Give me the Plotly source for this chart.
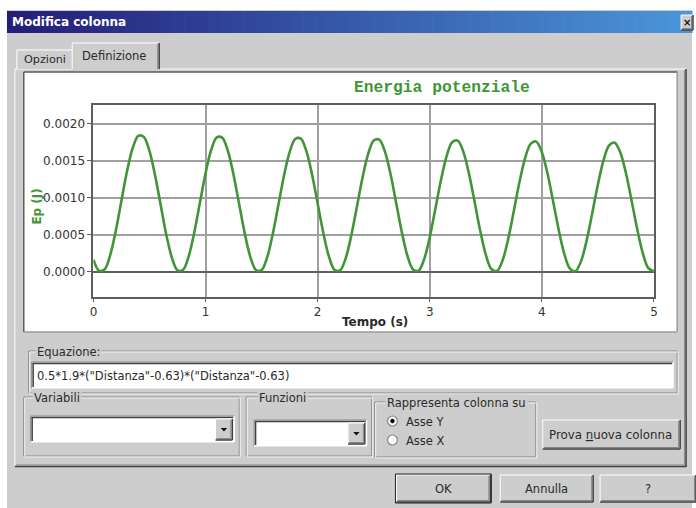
import plotly.graph_objects as go

W, H = 696, 508

# ---------------- data ----------------
time_s = [0.00, 0.05, 0.10, 0.15, 0.20, 0.25, 0.30, 0.35, 0.40, 0.45,
          0.50, 0.55, 0.60, 0.65, 0.70, 0.75, 0.80, 0.85, 0.90, 0.95,
          1.00, 1.05, 1.10, 1.15, 1.20, 1.25, 1.30, 1.35, 1.40, 1.45,
          1.50, 1.55, 1.60, 1.65, 1.70, 1.75, 1.80, 1.85, 1.90, 1.95,
          2.00, 2.05, 2.10, 2.15, 2.20, 2.25, 2.30, 2.35, 2.40, 2.45,
          2.50, 2.55, 2.60, 2.65, 2.70, 2.75, 2.80, 2.85, 2.90, 2.95,
          3.00, 3.05, 3.10, 3.15, 3.20, 3.25, 3.30, 3.35, 3.40, 3.45,
          3.50, 3.55, 3.60, 3.65, 3.70, 3.75, 3.80, 3.85, 3.90, 3.95,
          4.00, 4.05, 4.10, 4.15, 4.20, 4.25, 4.30, 4.35, 4.40, 4.45,
          4.50, 4.55, 4.60, 4.65, 4.70, 4.75, 4.80, 4.85, 4.90, 4.95,
          5.00]

ep_joule = [0.000165, 0.000015, 0.000033, 0.000228, 0.000559, 0.000963, 0.001359, 0.001670, 0.001833, 0.001819,
            0.001628, 0.001300, 0.000898, 0.000500, 0.000187, 0.000019, 0.000028, 0.000212, 0.000535, 0.000934,
            0.001329, 0.001643, 0.001813, 0.001807, 0.001626, 0.001306, 0.000910, 0.000515, 0.000198, 0.000023,
            0.000023, 0.000197, 0.000512, 0.000905, 0.001298, 0.001614, 0.001792, 0.001796, 0.001624, 0.001313,
            0.000922, 0.000528, 0.000209, 0.000027, 0.000018, 0.000183, 0.000489, 0.000876, 0.001267, 0.001586,
            0.001770, 0.001783, 0.001622, 0.001318, 0.000933, 0.000542, 0.000220, 0.000032, 0.000014, 0.000169,
            0.000467, 0.000848, 0.001238, 0.001558, 0.001748, 0.001770, 0.001618, 0.001324, 0.000944, 0.000555,
            0.000231, 0.000037, 0.000011, 0.000156, 0.000445, 0.000820, 0.001207, 0.001531, 0.001726, 0.001756,
            0.001614, 0.001329, 0.000956, 0.000568, 0.000243, 0.000043, 0.000008, 0.000144, 0.000424, 0.000793,
            0.001178, 0.001503, 0.001704, 0.001742, 0.001609, 0.001333, 0.000966, 0.000581, 0.000254, 0.000049,
            0.000005]

y_tick_vals = [0.0, 0.0005, 0.0010, 0.0015, 0.0020]
y_tick_text = ["0.0000", "0.0005", "0.0010", "0.0015", "0.0020"]
x_tick_vals = [0, 1, 2, 3, 4, 5]
x_tick_text = ["0", "1", "2", "3", "4", "5"]

window_title = "Modifica colonna"
tab_labels = ["Opzioni", "Definizione"]
chart_title = "Energia potenziale"
x_title = "Tempo (s)"
y_title = "Ep (J)"
equation_label = "Equazione:"
equation = '0.5*1.9*("Distanza"-0.63)*("Distanza"-0.63)'
group_labels = ["Variabili", "Funzioni", "Rappresenta colonna su"]
radio_labels = ["Asse Y", "Asse X"]
button_labels = ["OK", "Annulla", "?"]

# ---------------- styling ----------------
FACE = "#cdcdcd"
DARK = "#404040"
SHADOW = "#868686"
GREEN = "#419538"
TXT = "#2a2a2a"
UI_FONT = "DejaVu Sans"

shapes = []
annotations = []


def X(px):
    return px / W


def Y(py):
    return 1 - py / H


def rect(x0, y0, x1, y1, fill, line=None, lw=0):
    shapes.append(dict(type="rect", xref="paper", yref="paper",
                       x0=X(x0), x1=X(x1), y0=Y(y1), y1=Y(y0),
                       fillcolor=fill, layer="below",
                       line=dict(width=lw, color=line if line else fill)))


def seg(x0, y0, x1, y1, color, w=1):
    shapes.append(dict(type="line", xref="paper", yref="paper",
                       x0=X(x0), x1=X(x1), y0=Y(y0), y1=Y(y1), layer="below",
                       line=dict(width=w, color=color)))


def circle(cx, cy, r, fill, line, lw=1):
    shapes.append(dict(type="circle", xref="paper", yref="paper",
                       x0=X(cx - r), x1=X(cx + r), y0=Y(cy + r), y1=Y(cy - r),
                       fillcolor=fill, layer="below", line=dict(width=lw, color=line)))


def tri(cx, cy, s, color):
    path = "M {},{} L {},{} L {},{} Z".format(X(cx - s), Y(cy - s / 2), X(cx + s), Y(cy - s / 2), X(cx), Y(cy + s / 2 + 0.5))
    shapes.append(dict(type="path", xref="paper", yref="paper", path=path,
                       fillcolor=color, layer="below", line=dict(width=0, color=color)))


def text(px, py, s, size=12, color=TXT, anchor="left", family=UI_FONT, bg=None, angle=0):
    a = dict(xref="paper", yref="paper", x=X(px), y=Y(py), text=s, showarrow=False,
             xanchor=anchor, yanchor="middle", textangle=angle,
             font=dict(family=family, size=size, color=color))
    if bg:
        a["bgcolor"] = bg
    annotations.append(a)


def raised(x0, y0, x1, y1, default=False):
    rect(x0, y0, x1, y1, FACE)
    seg(x0, y0, x1, y0, "#ffffff")
    seg(x0, y0, x0, y1, "#ffffff")
    seg(x0, y1, x1, y1, DARK, 1.5)
    seg(x1, y0, x1, y1, DARK, 1.5)
    seg(x0 + 1, y1 - 1.5, x1 - 1.5, y1 - 1.5, SHADOW)
    seg(x1 - 1.5, y0 + 1, x1 - 1.5, y1 - 1.5, SHADOW)
    if default:
        rect(x0 - 1, y0 - 1, x1 + 1, y1 + 1, "rgba(0,0,0,0)", "#202020", 1)


def sunken(x0, y0, x1, y1, fill="#ffffff"):
    rect(x0, y0, x1, y1, fill)
    seg(x0, y0, x1, y0, SHADOW)
    seg(x0, y0, x0, y1, SHADOW)
    seg(x0 + 1, y0 + 1.5, x1 - 1, y0 + 1.5, DARK, 1.5)
    seg(x0 + 1.5, y0 + 1, x0 + 1.5, y1 - 1, DARK, 1.5)
    seg(x0, y1, x1, y1, "#ffffff")
    seg(x1, y0, x1, y1, "#ffffff")


def group(x0, y0, x1, y1, label, lx):
    rect(x0, y0, x1, y1, "rgba(0,0,0,0)", SHADOW, 1)
    rect(x0 + 1, y0 + 1, x1 + 1, y1 + 1, "rgba(0,0,0,0)", "#f2f2f2", 1)
    text(lx, y0 + 1, label, 11.5, TXT, bg=FACE)


def combo(x0, y0, x1, y1):
    sunken(x0, y0, x1, y1)
    bx0 = x1 - 19
    raised(bx0, y0 + 3, x1 - 2, y1 - 2)
    tri((bx0 + x1 - 2) / 2, (y0 + y1) / 2 + 0.5, 3.2, "#101010")


# ---------------- dialog chrome ----------------
rect(3, 10, W, H, FACE)

# title bar gradient
c0 = (36, 30, 120)
c1 = (74, 150, 218)
n = 58
for i in range(n):
    f = i / (n - 1)
    col = "rgb({},{},{})".format(int(c0[0] + (c1[0] - c0[0]) * f),
                                 int(c0[1] + (c1[1] - c0[1]) * f),
                                 int(c0[2] + (c1[2] - c0[2]) * f))
    xa = 3 + (W - 3) * i / n
    xb = 3 + (W - 3) * (i + 1) / n + 0.6
    rect(xa, 11, xb, 33, col)
text(6, 22, "<b>" + window_title + "</b>", 12, "#ffffff")
raised(685, 15, 697, 30)
text(690.5, 22.5, "<b>×</b>", 10, "#101010", anchor="center")

# tab panel
seg(11, 69, 11, 466, "#ffffff")
seg(11, 69, 70, 69, "#ffffff")
seg(158, 69, 690, 69, "#ffffff")
seg(690, 69, 690, 467, DARK, 1.5)
seg(11, 466.5, 690, 466.5, DARK, 1.5)
seg(12, 465, 689, 465, SHADOW)
seg(688.5, 70, 688.5, 465, SHADOW)

# tabs
rect(13, 50, 70, 69, FACE)
seg(13, 50, 13, 69, "#ffffff")
seg(13, 50, 70, 50, "#ffffff")
text(18, 59, tab_labels[0], 11.2, TXT)
rect(69, 43, 158, 70, FACE)
seg(69, 43, 157, 43, "#ffffff")
seg(69, 43, 69, 69, "#ffffff")
seg(157, 43, 157, 69, DARK, 1.5)
seg(155.5, 44, 155.5, 69, SHADOW)
text(77, 56, tab_labels[1], 11.5, TXT)

# white chart box
rect(20, 72, 681, 332, "#ffffff")
seg(20, 72, 681, 72, "#5a5a5a", 1.5)
seg(20, 72, 20, 332, "#5a5a5a", 1.5)
seg(20, 332, 681, 332, "#9a9a9a", 1.5)
seg(681, 72, 681, 332, "#9a9a9a", 1.5)

# equation group
group(25, 351, 681, 393, equation_label, 31)
sunken(28, 362, 677, 388)
text(31, 375.5, equation, 11.5, TXT)

# variabili / funzioni groups
group(20, 397, 238, 456, group_labels[0], 28)
combo(27, 416, 233, 442)
group(245, 397, 372, 456, group_labels[1], 256)
combo(253, 420, 367, 446)

# rappresenta group
group(375, 402, 538, 457, group_labels[2], 385)
circle(393, 421, 5, "#ffffff", SHADOW, 1.2)
circle(393, 421, 2, "#000000", "#000000", 0.5)
circle(393, 440, 5, "#ffffff", SHADOW, 1.2)
text(405, 422, radio_labels[0], 11.5, TXT)
text(405, 441, radio_labels[1], 11.5, TXT)

# buttons
raised(545, 420, 684, 449)
text(614, 434.5, "Prova <span style='text-decoration:underline'>n</span>uova colonna", 11.8, TXT, anchor="center")
raised(397, 475, 492, 502, default=True)
text(444.5, 488.5, button_labels[0], 11.5, TXT, anchor="center")
raised(502, 475, 596, 502)
text(549, 488.5, button_labels[1], 11.5, TXT, anchor="center")
raised(603, 475, 700, 502)
text(651, 488.5, button_labels[2], 11.5, TXT, anchor="center")

# chart texts
text(443, 87, "<b>" + chart_title + "</b>", 16.3, GREEN, anchor="center", family="Liberation Mono")
text(375, 322, "<b>" + x_title + "</b>", 12, TXT, anchor="center")
text(33, 207, "<b>" + y_title + "</b>", 12, GREEN, anchor="center", angle=-90)

# ---------------- figure ----------------
fig = go.Figure()
fig.add_trace(go.Scatter(x=time_s, y=ep_joule, mode="lines",
                         line=dict(color=GREEN, width=2.6, shape="spline", smoothing=0.9),
                         hoverinfo="skip", showlegend=False))

fig.update_layout(
    width=W, height=H,
    margin=dict(l=0, r=0, t=0, b=0),
    paper_bgcolor="#ffffff",
    plot_bgcolor="rgba(0,0,0,0)",
    showlegend=False,
    shapes=shapes,
    annotations=annotations,
    xaxis=dict(domain=[90.5 / W, 657.5 / W], range=[0, 5],
               tickvals=x_tick_vals, ticktext=x_tick_text,
               showgrid=True, gridcolor="#a0a0a0", gridwidth=1.5,
               zeroline=False, showline=True, mirror=True,
               linecolor="#5e5e5e", linewidth=2,
               ticks="outside", ticklen=3, tickcolor="#5e5e5e",
               tickfont=dict(family=UI_FONT, size=12, color="#333333"),
               fixedrange=True),
    yaxis=dict(domain=[1 - 297 / H, 1 - 105 / H], range=[-0.00034, 0.00225],
               tickvals=y_tick_vals, ticktext=y_tick_text,
               showgrid=True, gridcolor="#a0a0a0", gridwidth=1.5,
               zeroline=True, zerolinecolor="#5e5e5e", zerolinewidth=2,
               showline=True, mirror=True,
               linecolor="#5e5e5e", linewidth=2,
               ticks="outside", ticklen=4, tickcolor="#5e5e5e",
               tickfont=dict(family=UI_FONT, size=12, color="#333333"),
               fixedrange=True),
)

fig.write_html("out.html",
               config={"displayModeBar": False},
               post_script="document.body.style.margin='0';document.body.style.padding='0';")
